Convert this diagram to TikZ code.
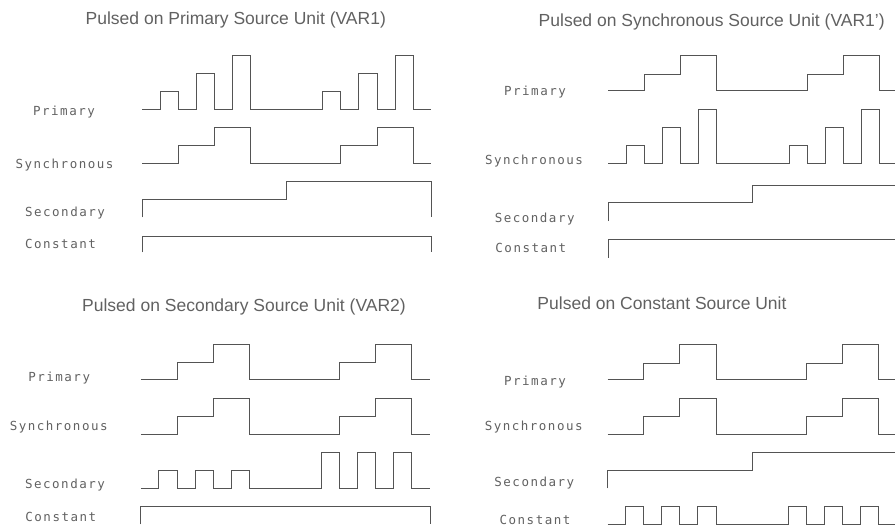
\documentclass[tikz,border=0pt]{standalone}
\usepackage{fontspec}
\setmainfont{Liberation Sans}
\newfontfamily\plotfont[LetterSpace=12]{DejaVu Sans Mono}
\definecolor{ink}{gray}{0.33}
\definecolor{txt}{gray}{0.38}

\begin{document}
\begin{tikzpicture}[x=1pt,y=-1pt,
  wave/.style={draw=ink,line width=0.75pt},
  lbl/.style={anchor=base,inner sep=0pt,text=txt,
    font=\plotfont\fontsize{12.5}{14}\selectfont},
  ttl/.style={anchor=base,inner sep=0pt,text=txt,
    font=\fontsize{17.5}{20}\selectfont}]
  \useasboundingbox (0,0) rectangle (895,530);
  % top left: pulsed on primary
  \node[ttl] (t1) at (235.8,24) {Pulsed on Primary Source Unit (VAR1)};
  \node[lbl] (p1) at (64,115) {Primary};
  \node[lbl] (s1) at (64.5,168.3) {Synchronous};
  \node[lbl] (c1) at (65,216.7) {Secondary};
  \node[lbl] (k1) at (60.5,248.3) {Constant};
  \begin{scope}[shift={(142,0)},xscale=18.07]
  \draw[wave] (0,109) -| (1,91) -| (2,109) -| (3,73) -| (4,109) -| (5,55)
    -| (6,109) -| (10,91) -| (11,109) -| (12,73) -| (13,109) -| (14,55)
    -| (15,109) -- (16,109);
  \draw[wave] (0,163.3) -| (2,145.3) -| (4,127.3) -| (6,163.3)
    -| (11,145.3) -| (13,127.3) -| (15,163.3) -- (16,163.3);
  \draw[wave] (0,217.3) |- (8,199.3) |- (16,181) -- (16,217.3);
  \draw[wave] (0,252.3) |- (16,236) -- (16,252.3);
  \end{scope}
  % top right: pulsed on synchronous
  \node[ttl] (t2) at (711.7,26.7) {Pulsed on Synchronous Source Unit (VAR1')};
  \node[lbl] (p2) at (535,95.7) {Primary};
  \node[lbl] (s2) at (534,164.3) {Synchronous};
  \node[lbl] (c2) at (534.7,222.7) {Secondary};
  \node[lbl] (k2) at (530.8,252.8) {Constant};
  \begin{scope}[shift={(608.3,0)},xscale=18.07]
  \draw[wave] (0,90.7) -| (2,74.3) -| (4,55) -| (6,90.7)
    -| (11,74.3) -| (13,55) -| (15,90.7) -- (16,90.7);
  \draw[wave] (0,163.3) -| (1,145.3) -| (2,163.3) -| (3,127.3) -| (4,163.3)
    -| (5,109.3) -| (6,163.3) -| (10,145.3) -| (11,163.3) -| (12,127.3)
    -| (13,163.3) -| (14,109.3) -| (15,163.3) -- (16,163.3);
  \draw[wave] (0,221) |- (8,202.3) |- (16,185.3) -- (16,221);
  \draw[wave] (0,257.7) |- (16,239.3) -- (16,257.7);
  \end{scope}
  % bottom left: pulsed on secondary
  \node[ttl] (t3) at (244,311) {Pulsed on Secondary Source Unit (VAR2)};
  \node[lbl] (p3) at (59.2,381) {Primary};
  \node[lbl] (s3) at (58.7,430.5) {Synchronous};
  \node[lbl] (c3) at (65,488) {Secondary};
  \node[lbl] (k3) at (60.8,521.2) {Constant};
  \begin{scope}[shift={(140.8,0)},xscale=18.07]
  \draw[wave] (0,379) -| (2,362.3) -| (4,344.3) -| (6,379)
    -| (11,362.3) -| (13,344.3) -| (15,379) -- (16,379);
  \draw[wave] (0,434) -| (2,416) -| (4,398) -| (6,434)
    -| (11,416) -| (13,398) -| (15,434) -- (16,434);
  \draw[wave] (0,488.3) -| (1,470) -| (2,488.3) -| (3,470) -| (4,488.3)
    -| (5,470) -| (6,488.3) -| (10,452) -| (11,488.3) -| (12,452)
    -| (13,488.3) -| (14,452) -| (15,488.3) -- (16,488.3);
  \draw[wave] (0,524.3) |- (16,506.5) -- (16,524.3);
  \end{scope}
  % bottom right: pulsed on constant
  \node[ttl] (t4) at (662,309.3) {Pulsed on Constant Source Unit};
  \node[lbl] (p4) at (535,385) {Primary};
  \node[lbl] (s4) at (533.7,430.5) {Synchronous};
  \node[lbl] (c4) at (534.3,486) {Secondary};
  \node[lbl] (k4) at (535,524) {Constant};
  \begin{scope}[shift={(607.5,0)},xscale=18.07]
  \draw[wave] (0,379) -| (2,363.3) -| (4,344.7) -| (6,379)
    -| (11,363.3) -| (13,344.7) -| (15,379) -- (16,379);
  \draw[wave] (0,434) -| (2,416) -| (4,398) -| (6,434)
    -| (11,416) -| (13,398) -| (15,434) -- (16,434);
  \draw[wave] (0,488.3) |- (8,470) |- (16,452) -- (16,488.3);
  \draw[wave] (0,524) -| (1,506) -| (2,524) -| (3,506) -| (4,524)
    -| (5,506) -| (6,524) -| (10,506) -| (11,524) -| (12,506)
    -| (13,524) -| (14,506) -| (15,524) -- (16,524);
  \end{scope}
\end{tikzpicture}
\end{document}
